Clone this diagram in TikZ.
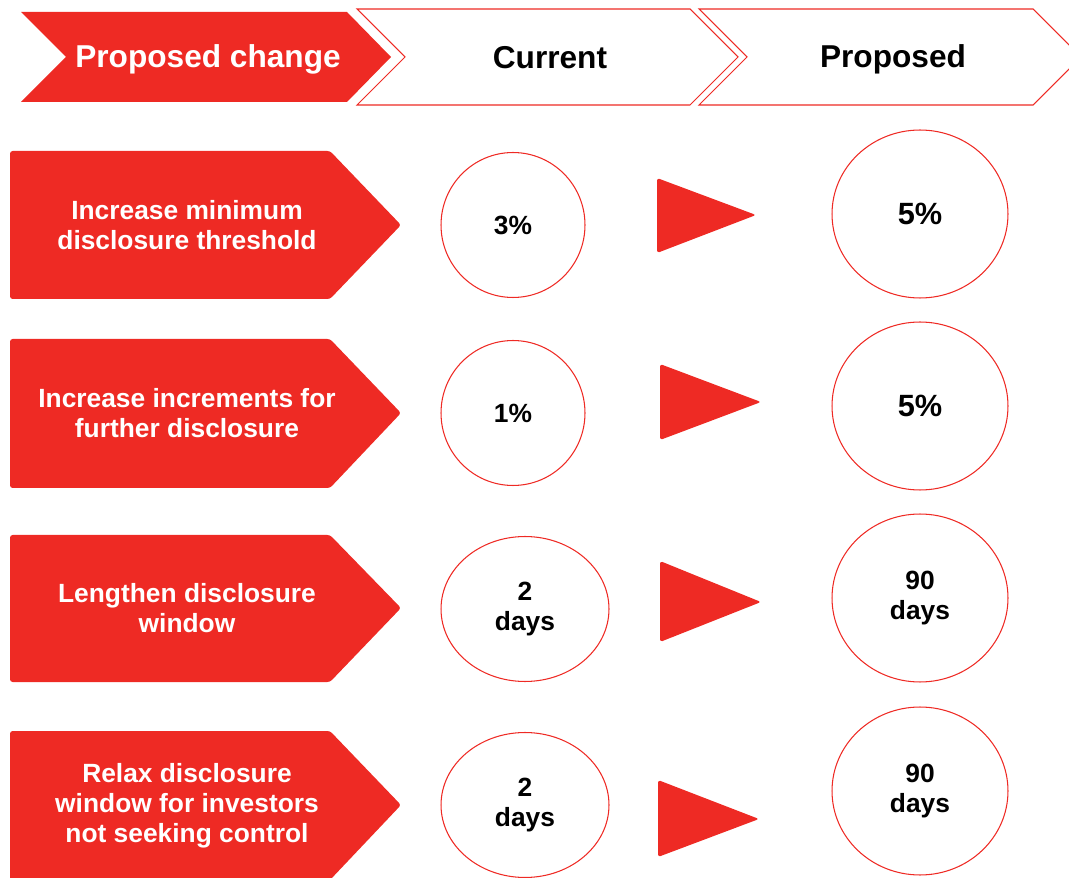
\documentclass[tikz,border=0pt]{standalone}
\usepackage{fontspec}
\setmainfont{Liberation Sans}
\usetikzlibrary{positioning,shapes.geometric}
\definecolor{brandred}{HTML}{EE2A24}
\tikzset{
  hdr_r/.style = {fill=brandred, draw=none},
  hdr_w/.style = {fill=white, draw=brandred, line width=0.6pt},
  hdr_t/.style = {font=\fontsize{18}{21}\selectfont\bfseries},
  chg_box/.style = {fill=brandred, rounded corners=1.5pt},
  chg_t/.style = {align=center, text=white,
    font=\fontsize{15}{17}\selectfont\bfseries},
  val_c/.style = {ellipse, draw=brandred, line width=0.6pt, inner sep=0pt,
    align=center, minimum width=2.88cm, minimum height=2.9cm,
    font=\fontsize{15}{16.8}\selectfont\bfseries},% current value
  val_p/.style = {val_c, minimum width=3.52cm, minimum height=3.36cm},% proposed value
  go_arr/.style = {fill=brandred, rounded corners=1.5pt}
}

\begin{document}
\begin{tikzpicture}[x=0.02cm, y=-0.02cm]
\useasboundingbox (0,0) rectangle (1069,878);
\clip (0,0) rectangle (1069,878);
%
% header
\fill[hdr_r] (21,12) -- (347,12) -- (391,57) -- (347,102) -- (21,102) -- (66,57) -- cycle;
\filldraw[hdr_w] (357,9) -- (690,9) -- (738,57) -- (690,105) -- (357,105) -- (405,57) -- cycle;
\filldraw[hdr_w] (699,9) -- (1033,9) -- (1081,57) -- (1033,105) -- (699,105) -- (747,57) -- cycle;
\node (H1) [hdr_t, text=white] at (208,59) {Proposed change};
\node (H2) [hdr_t] at (550,58) {Current};
\node (H3) [hdr_t] at (893,59) {Proposed};
%
% row 1
\fill[chg_box] (10,151) -- (330,151) -- (401,225) -- (330,299) -- (10,299) -- cycle;
\node (C1) [chg_t] at (187,225) {Increase minimum\\disclosure threshold};
\node (A1) [val_c] at (513,225) {3\%};
\fill[go_arr] (657,178) -- (756,215) -- (657,253) -- cycle;
\node (B1) [val_p, font=\fontsize{17.5}{20}\selectfont\bfseries] at (920,214) {5\%};
%
% row 2
\fill[chg_box] (10,339) -- (330,339) -- (401,413) -- (330,488) -- (10,488) -- cycle;
\node (C2) [chg_t] at (187,413) {Increase increments for\\further disclosure};
\node (A2) [val_c] at (513,413) {1\%};
\fill[go_arr] (660,364) -- (761,402) -- (660,440) -- cycle;
\node (B2) [val_p, font=\fontsize{17.5}{20}\selectfont\bfseries] at (920,406) {5\%};
%
% row 3
\fill[chg_box] (10,535) -- (330,535) -- (401,608) -- (330,682) -- (10,682) -- cycle;
\node (C3) [chg_t] at (187,608) {Lengthen disclosure\\window};
\node (A3) [val_c, minimum width=3.36cm] at (525,609) {2\\days};
\fill[go_arr] (660,561) -- (761,602) -- (660,642) -- cycle;
\node (B3) [val_p] at (920,598) {90\\days};
%
% row 4
\fill[chg_box] (10,731) -- (330,731) -- (401,805) -- (330,880) -- (10,880) -- cycle;
\node (C4) [chg_t] at (187,806) {Relax disclosure\\window for investors\\not seeking control};
\node (A4) [val_c, minimum width=3.36cm] at (525,805) {2\\days};
\fill[go_arr] (658,780) -- (759,819) -- (658,857) -- cycle;
\node (B4) [val_p] at (920,791) {90\\days};
\end{tikzpicture}
\end{document}
